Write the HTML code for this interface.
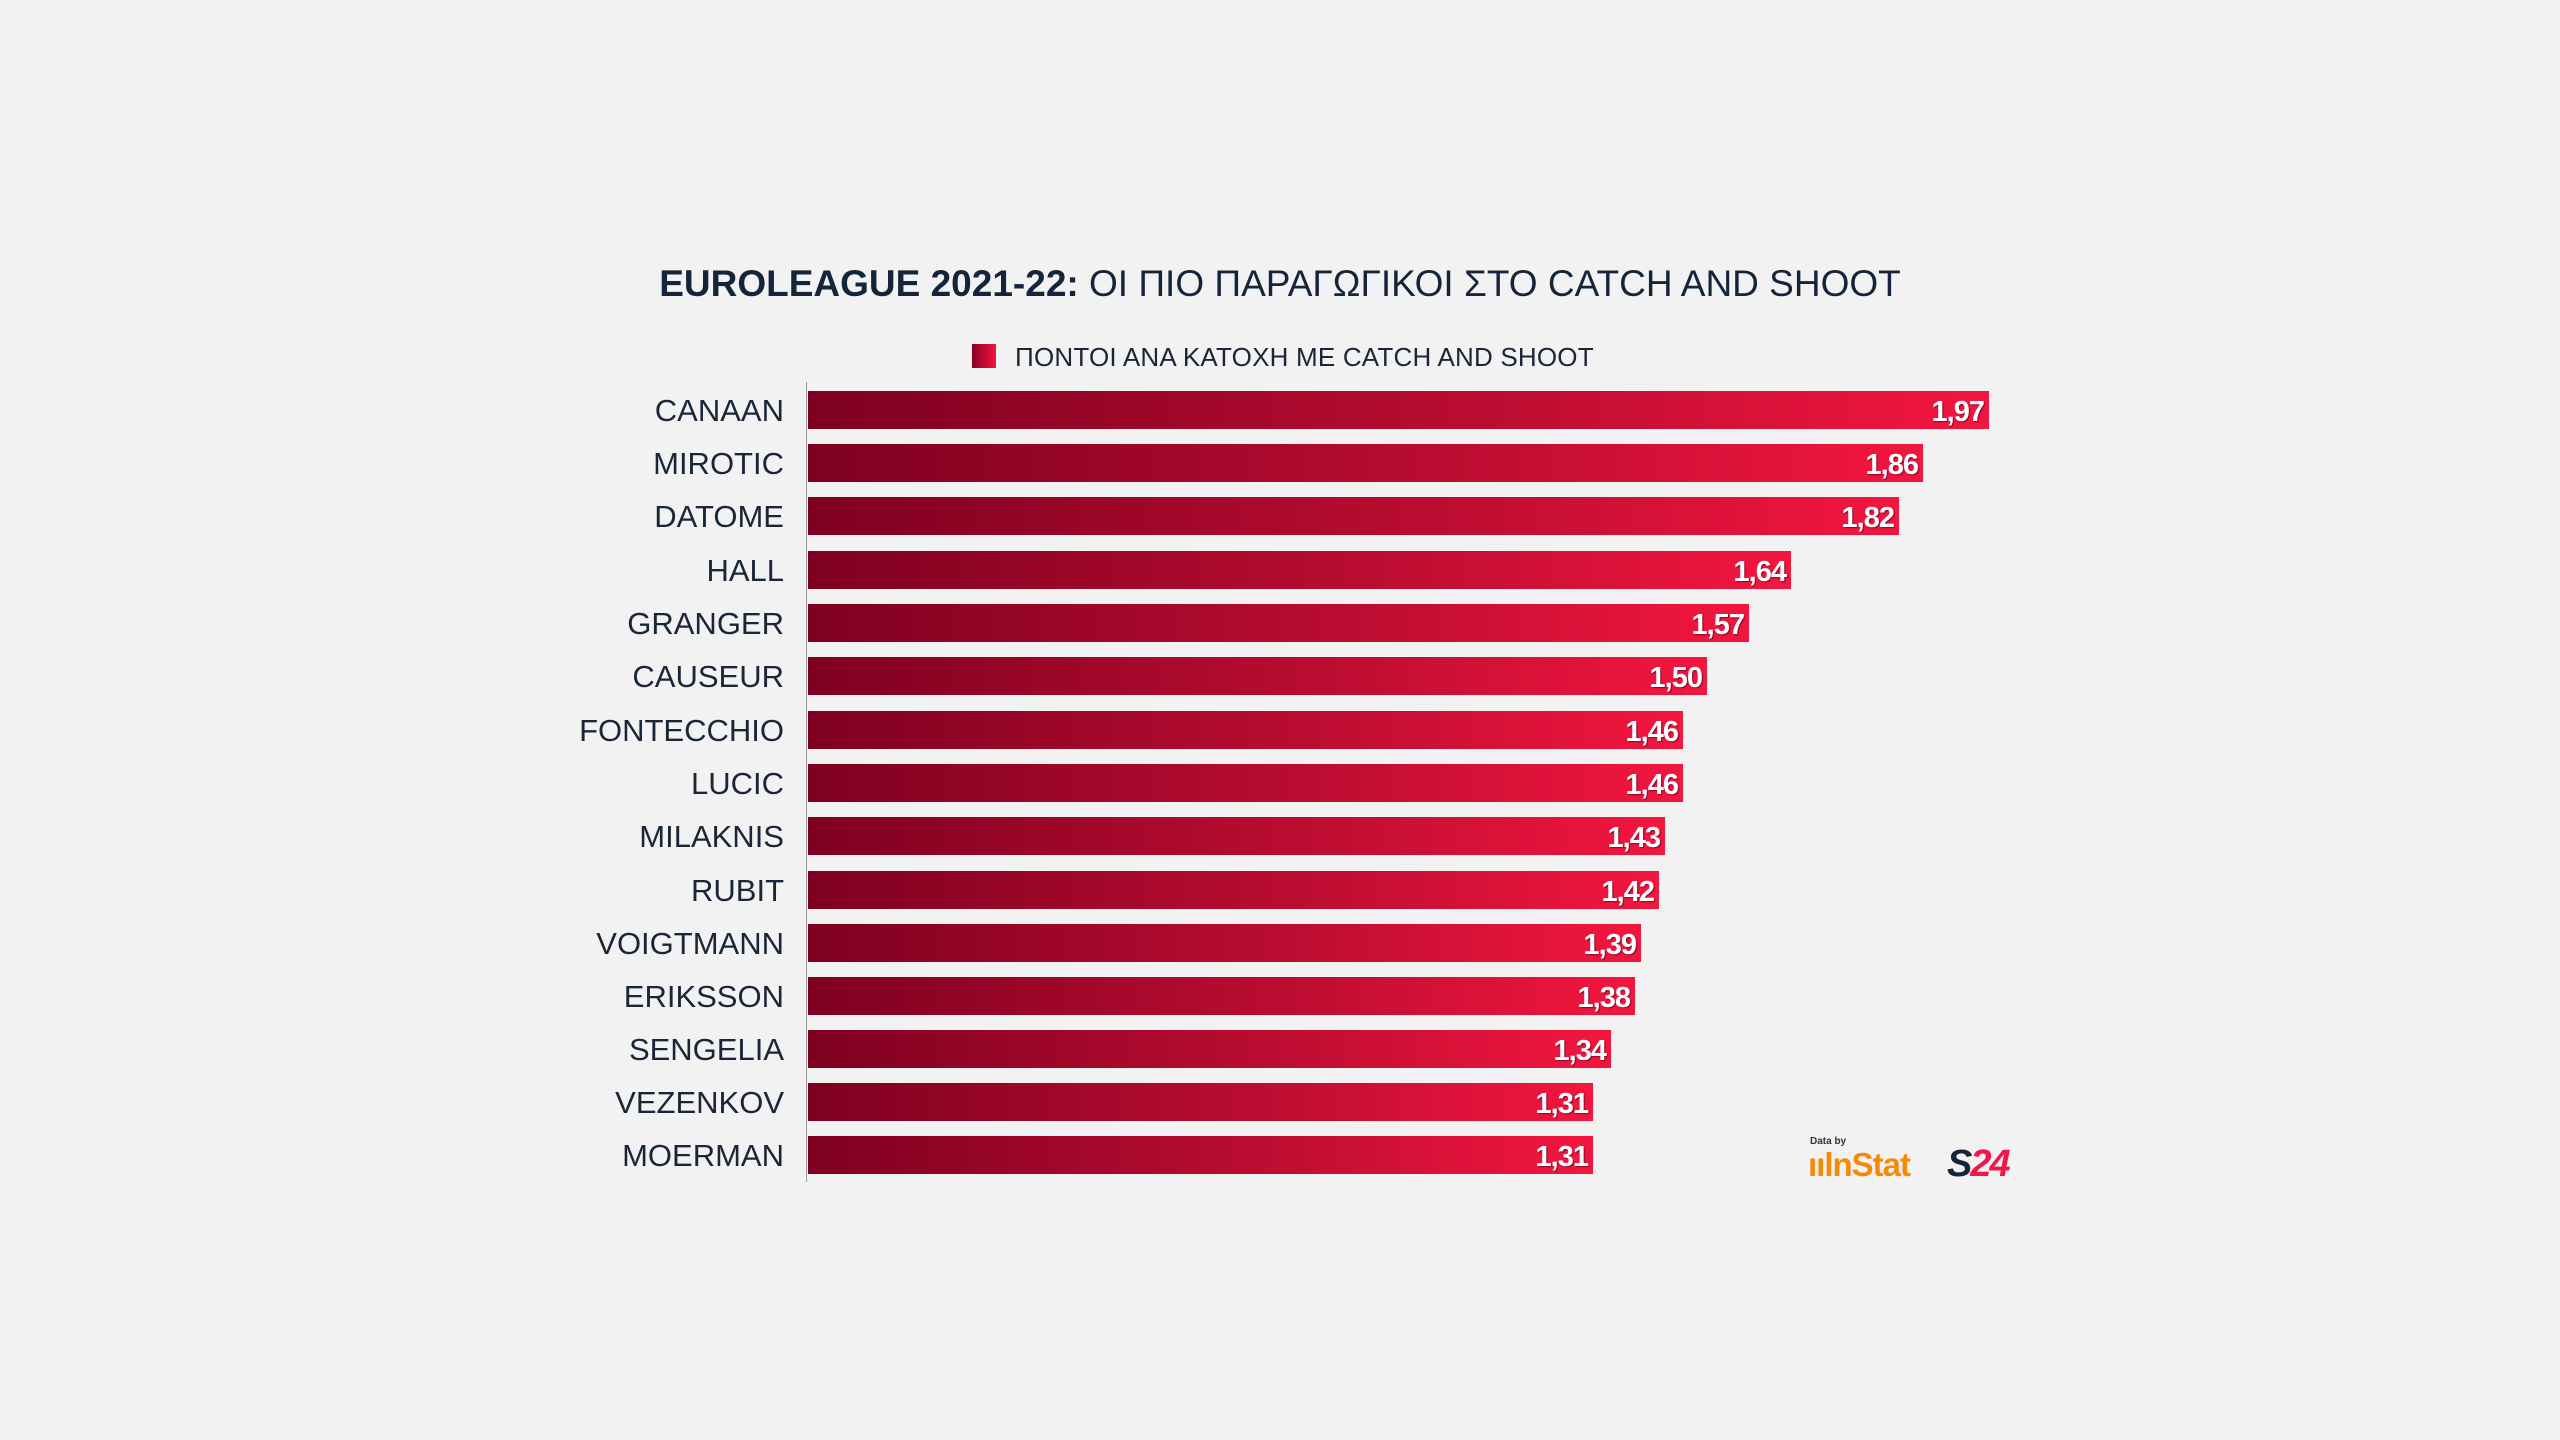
<!DOCTYPE html>
<html><head><meta charset="utf-8"><style>
html,body{margin:0;padding:0;background:#f2f2f2;}
body{width:2560px;height:1440px;position:relative;overflow:hidden;font-family:"Liberation Sans","DejaVu Sans",sans-serif;color:#14243a;}
.title{position:absolute;left:0;width:2560px;top:263px;text-align:center;font-size:37px;font-weight:bold;letter-spacing:0px;}
.leg{position:absolute;left:972px;top:344px;width:24px;height:24px;background:linear-gradient(90deg,#8a0022,#f2153f);}
.legt{position:absolute;left:1015px;top:342px;font-size:26px;letter-spacing:0.2px;color:#1a2638;}
.axis{position:absolute;left:806px;top:382px;width:1px;height:800px;background:#999;}
.row{position:absolute;left:0;height:38px;width:2560px;}
.lab{position:absolute;right:1776px;top:3px;font-size:31px;line-height:34px;letter-spacing:0px;color:#1a2638;}
.bar{position:absolute;left:808px;top:0;height:38px;background:linear-gradient(90deg,#7e0020,#b80c30 55%,#f3163f);}
.val{position:absolute;right:5px;top:4px;font-size:29px;line-height:34px;color:#fff;font-weight:bold;letter-spacing:-1px;text-shadow:1px 1px 1px rgba(60,0,30,.6);}
.db{position:absolute;left:1810px;top:1136px;font-size:10px;color:#333;font-weight:bold;}
.ins{position:absolute;left:1808px;top:1146px;font-size:33px;font-weight:bold;color:#f58a07;letter-spacing:-1px;}
.s24{position:absolute;left:1947px;top:1143px;font-size:38px;font-weight:900;letter-spacing:-2px;font-style:italic;}
</style></head><body>
<div class="title">EUROLEAGUE 2021-22: <span style="font-weight:normal">ΟΙ ΠΙΟ ΠΑΡΑΓΩΓΙΚΟΙ ΣΤΟ CATCH AND SHOOT</span></div>
<div class="leg"></div><div class="legt">ΠΟΝΤΟΙ ΑΝΑ ΚΑΤΟΧΗ ΜΕ CATCH AND SHOOT</div>
<div class="axis"></div>
<div class="row" style="top:391px"><div class="lab">CANAAN</div><div class="bar" style="width:1181px"><div class="val">1,97</div></div></div>
<div class="row" style="top:444px"><div class="lab">MIROTIC</div><div class="bar" style="width:1115px"><div class="val">1,86</div></div></div>
<div class="row" style="top:497px"><div class="lab">DATOME</div><div class="bar" style="width:1091px"><div class="val">1,82</div></div></div>
<div class="row" style="top:551px"><div class="lab">HALL</div><div class="bar" style="width:983px"><div class="val">1,64</div></div></div>
<div class="row" style="top:604px"><div class="lab">GRANGER</div><div class="bar" style="width:941px"><div class="val">1,57</div></div></div>
<div class="row" style="top:657px"><div class="lab">CAUSEUR</div><div class="bar" style="width:899px"><div class="val">1,50</div></div></div>
<div class="row" style="top:711px"><div class="lab">FONTECCHIO</div><div class="bar" style="width:875px"><div class="val">1,46</div></div></div>
<div class="row" style="top:764px"><div class="lab">LUCIC</div><div class="bar" style="width:875px"><div class="val">1,46</div></div></div>
<div class="row" style="top:817px"><div class="lab">MILAKNIS</div><div class="bar" style="width:857px"><div class="val">1,43</div></div></div>
<div class="row" style="top:871px"><div class="lab">RUBIT</div><div class="bar" style="width:851px"><div class="val">1,42</div></div></div>
<div class="row" style="top:924px"><div class="lab">VOIGTMANN</div><div class="bar" style="width:833px"><div class="val">1,39</div></div></div>
<div class="row" style="top:977px"><div class="lab">ERIKSSON</div><div class="bar" style="width:827px"><div class="val">1,38</div></div></div>
<div class="row" style="top:1030px"><div class="lab">SENGELIA</div><div class="bar" style="width:803px"><div class="val">1,34</div></div></div>
<div class="row" style="top:1083px"><div class="lab">VEZENKOV</div><div class="bar" style="width:785px"><div class="val">1,31</div></div></div>
<div class="row" style="top:1136px"><div class="lab">MOERMAN</div><div class="bar" style="width:785px"><div class="val">1,31</div></div></div>
<div class="db">Data by</div>
<div class="ins">ıılnStat</div>
<div class="s24"><span style="color:#14243a">S</span><span style="color:#f2164a">24</span></div>
</body></html>
